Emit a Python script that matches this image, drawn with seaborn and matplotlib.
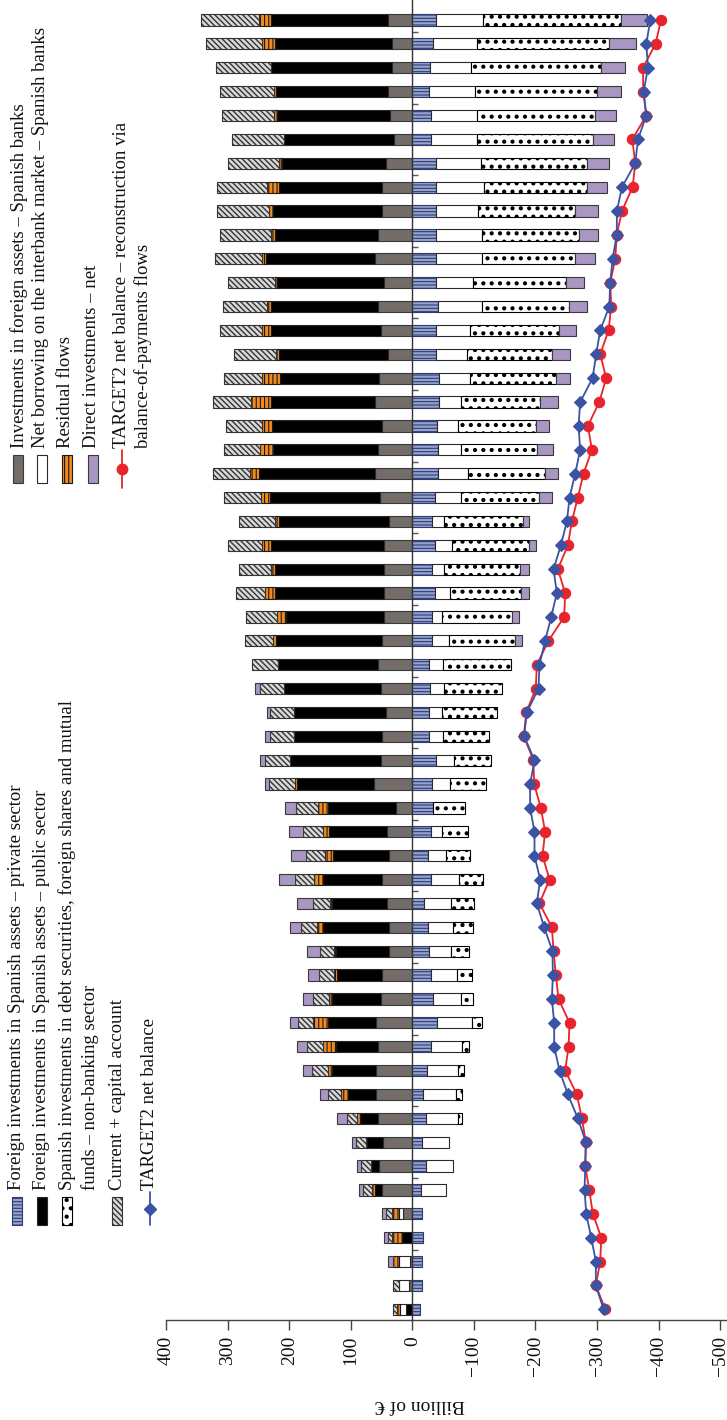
import numpy as np
import pandas as pd
import matplotlib
matplotlib.use("Agg")
import matplotlib.pyplot as plt
from matplotlib.patches import Rectangle
from matplotlib.lines import Line2D
import seaborn as sns

# ---------------- data (month index 0 = first month, bottom of chart) ----------------
months = list(range(55))

banks_foreign_assets = [0, 4.9, 3.8, 0, 14.6, 49.9, 53.7, 48.2, 56.4, 59.1, 59.1, 56.4, 59.1, 50.9,
                        49.9, 37.9, 37.9, 41.7, 49.9, 37.9, 41.7, 27.1, 62.3, 50.9, 49.9, 43.4, 50.9,
                        55.3, 49.9, 46.6, 46.6, 46.6, 46.6, 37.9, 52.6, 60.2, 55.8, 49.3, 60.7, 53.7,
                        40.1, 50.9, 56.4, 45.5, 60.7, 55.3, 49.9, 49.9, 43.4, 29.8, 36.3, 40.1, 33.1,
                        33.6, 40.1]

private_sector = [-12.5, -16.3, -16.3, -16.8, -16.3, -14.1, -21.7, -16.3, -21.7, -17.9, -23.3, -30.4,
                  -40.7, -34.1, -30.4, -27.6, -26, -19.5, -29.8, -26, -29.8, -33.1, -31.4, -37.9,
                  -27.6, -27.6, -28.7, -27.1, -31.4, -31.4, -36.9, -31.4, -36.9, -31.4, -36.9, -41.2,
                  -41.2, -39.6, -43.9, -43.9, -38.5, -37.9, -41.2, -37.9, -37.9, -37.9, -37.9, -37.9,
                  -37.9, -30.4, -30.4, -27.6, -28.7, -34.1, -37.9]

public_sector = [10.8, 0, 0, 16.3, 0, 10.8, 14.1, 24.9, 28.7, 45, 71, 68.3, 77.5, 79.1, 73.2, 86.7,
                 107.9, 88.3, 94.9, 91.6, 93.2, 110.6, 124.7, 148, 142, 148.5, 157.2, 162.6, 170.7,
                 158.8, 175.6, 175.6, 183.7, 178.3, 178.9, 188.6, 170.2, 178.3, 169.6, 161.5, 176.2,
                 177.8, 172.4, 174, 176.2, 168, 176.2, 166.9, 167.5, 178.9, 183.2, 180.5, 195.7,
                 189.7, 188.6]

interbank = [9.2, 16.8, 17.3, 0, 7, -40.7, -45, -43.9, -53.1, -52.6, -50.4, -50.9, -56.9, -45,
             -41.7, -34.7, -40.7, -42.8, -46.6, -28.7, -19, 0, -29.8, -29.8, -21.7, -21.1, -23.3,
             -23.3, -28.2, -17.3, -24.4, -20.1, -28.2, -20.1, -42.3, -48.8, -37.9, -34.1, -35.2,
             -49.9, -49.9, -55.8, -71.5, -61.2, -74.8, -74.8, -69.4, -79.1, -73.7, -74.3, -74.3,
             -74.3, -66.1, -70.5, -77.5]

spanish_securities = [0, 0, 0, 0, 0, 0, 0, 0, -5.4, -9.8, -10.8, -11.4, -16.3, -19, -24.4, -29.8,
                      -32.5, -38.5, -37.9, -39, -42.3, -52.6, -58, -60.2, -76, -89.4, -94.3, -110,
                      -107.3, -112.7, -115.4, -123.6, -123.6, -127.9, -126.8, -124.7, -123, -127.4,
                      -128.5, -139.8, -138.2, -144.7, -142.5, -150.7, -151.8, -157.2, -157.2, -166.4,
                      -171.8, -188, -191.3, -197.8, -211.9, -214.1, -223.3]

residual = [5.4, 0, 10.8, 16.3, 10.8, 5.4, 0, 2.7, 4.3, 12.5, 6.5, 21.1, 24.4, 4.9, 4.3, 2.7, 9.8,
            3.8, 15.2, 12.5, 10.8, 15.2, 3.8, 0, 0, 0, 0, 0, 5.4, 14.1, 16.3, 7.6, 14.6, 7, 14.6,
            15.2, 20.6, 15.7, 32, 28.2, 5.4, 14.6, 6.5, 3.8, 6.5, 5.4, 6.5, 18.4, 6, 0, 5.4, 4.3,
            1.5, 20, 20]

current_capital = [5.4, 9.2, 0, 6.5, 10.8, 13.6, 16.3, 15.7, 17.3, 20.1, 26, 24.9, 24.4, 27.1, 24.4,
                   22.8, 24.4, 28.2, 29.8, 30.9, 32.5, 35.2, 41.7, 40.7, 38.5, 39.6, 38.5, 42.3, 46.1,
                   50.4, 48.2, 52, 54.2, 58.5, 60.2, 59.6, 59.6, 58.5, 61.2, 62.9, 67.8, 69.4, 71.5,
                   75.9, 77, 83.5, 85.1, 82.4, 82.4, 84.6, 84.6, 87.8, 88.3, 92.1, 93.8]

direct_investments = [0, 0, 7, 7.6, 6.5, 7, 6.5, 7, 15.2, 12.5, 14.6, 17.3, 12.5, 15.2, 17.3, 21.7,
                      17.9, 26, 26.6, 24.9, 21.7, 19, 7, 7, 9.2, 4.3, 8.1, 0, -11.9, -12.5, -13,
                      -14.6, -11.9, -9.8, -20.6, -21.1, -26, -21.1, -28.2, -22.8, -29.8, -27.6, -28.2,
                      -29.3, -32.5, -30.9, -36.3, -32.5, -35.2, -35.2, -35.2, -39, -37.9, -44.4, -42.3]

target2 = [-310.6, -298, -298.1, -290.5, -282.4, -279.7, -280.8, -281.8, -268.8, -252.6, -239,
           -230.4, -230.4, -226.6, -228.2, -227.6, -214.1, -202.2, -207.6, -198.4, -198.4, -191.3,
           -191.3, -198.4, -181.6, -185.9, -204.9, -206.5, -215.7, -225.5, -234.7, -229.3, -241.2,
           -251, -255.3, -264.5, -272.6, -269.9, -272.6, -292.7, -298.6, -305.1, -319.8, -321.4,
           -325.2, -332, -332.2, -340.4, -362, -366.4, -380, -375.6, -382.7, -380, -386.4]

target2_reconstruction = [-313.3, -298, -305.1, -306.8, -293.2, -287.3, -280.8, -281.8, -275.3,
                          -267.2, -248.2, -253.7, -255.3, -237.4, -233.1, -229.3, -226.6, -206.5,
                          -222.8, -211.4, -215.7, -208.7, -197.8, -196.7, -181, -185, -200.5,
                          -202.2, -221.1, -246.6, -248.2, -236.3, -252.6, -259, -268.8, -278,
                          -291.6, -285.1, -303.5, -314.9, -305.1, -318.7, -323, -321.4, -329.5,
                          -332, -340.4, -357.7, -362, -357.2, -380, -375, -374.5, -395, -403.8]

value_ticks = [400, 300, 200, 100, 0, -100, -200, -300, -400, -500]
quarter_ticks = [2.5 + 3 * i for i in range(18)]

# ---------------- styles ----------------
STYLE = {
    "banks":   dict(color="#736c69", hatch=None, edgecolor="#3a3a3a", hlw=0.8),
    "private": dict(color="#97a3cf", hatch="-----", edgecolor="#2d3b70", hlw=0.8),
    "public":  dict(color="#000000", hatch=None, edgecolor="#2a2a2a", hlw=0.8),
    "inter":   dict(color="#ffffff", hatch=None, edgecolor="#2a2a2a", hlw=0.8),
    "spanish": dict(color="#ffffff", hatch="..", edgecolor="#000000", hlw=1.8),
    "resid":   dict(color="#f28a1f", hatch="||||", edgecolor="#1a1a1a", hlw=0.8),
    "current": dict(color="#d9d9d9", hatch="\\\\\\\\\\\\", edgecolor="#333333", hlw=1.0),
    "direct":  dict(color="#a996c2", hatch=None, edgecolor="#3a3a3a", hlw=0.8),
}
BLUE = "#3a53a4"
RED = "#e8232b"

sns.set_theme(style="white")
plt.rcParams["font.family"] = ["Liberation Serif", "DejaVu Serif"]
plt.rcParams["axes.unicode_minus"] = True

W, H = 727, 1420
fig = plt.figure(figsize=(W / 100, H / 100), dpi=100)
ax = fig.add_axes([166 / W, 1 - 1320 / H, (W - 166) / W, 1320 / H])

stack = [
    ("banks", banks_foreign_assets),
    ("private", private_sector),
    ("public", public_sector),
    ("inter", interbank),
    ("spanish", spanish_securities),
    ("resid", residual),
    ("current", current_capital),
    ("direct", direct_investments),
]

m = np.array(months, dtype=float)
pos = np.zeros(len(m))
neg = np.zeros(len(m))
for key, vals in stack:
    v = np.array(vals, dtype=float)
    assert len(v) == len(m), key
    st = STYLE[key]
    left = np.where(v >= 0, pos, neg)
    keep = v != 0
    with plt.rc_context({"hatch.linewidth": st["hlw"]}):
        bars = ax.barh(m[keep], v[keep], left=left[keep], height=0.47,
                       color=st["color"], hatch=st["hatch"], edgecolor=st["edgecolor"],
                       linewidth=0.8, zorder=2)
    for b in bars:
        if hasattr(b, "set_hatch_linewidth"):
            b.set_hatch_linewidth(st["hlw"])
    pos += np.where(v > 0, v, 0)
    neg += np.where(v < 0, v, 0)

df = pd.DataFrame({"month": months, "target2": target2, "recon": target2_reconstruction})
sns.lineplot(data=df, x="recon", y="month", orient="y", color=RED, marker="o",
             markersize=7.5, markeredgecolor=RED, linewidth=1.3, ax=ax, zorder=5)
sns.lineplot(data=df, x="target2", y="month", orient="y", color=BLUE, marker="D",
             markersize=6.5, markeredgecolor=BLUE, linewidth=1.3, ax=ax, zorder=6)

ax.set_xlim(400, -511)
ax.set_ylim(-0.448, 54.838)
ax.set_xlabel("")
ax.set_ylabel("")

for s in ["top", "right"]:
    ax.spines[s].set_visible(False)
ax.spines["left"].set_position(("data", 0))
ax.spines["left"].set_color("#333333")
ax.spines["left"].set_linewidth(1.0)
ax.spines["left"].set_zorder(3)
ax.spines["bottom"].set_color("#444444")
ax.spines["bottom"].set_linewidth(1.0)

ax.set_xticks(value_ticks)
ax.tick_params(axis="x", bottom=True, direction="out", length=7.5, width=1.0, color="#444444",
               labelsize=14, labelrotation=90, pad=4, labelcolor="#111111")
ax.set_yticks(quarter_ticks)
ax.tick_params(axis="y", left=True, direction="in", length=4.5, width=1.0, color="#555555",
               labelleft=False)
ax.grid(False)

fig.text(420 / W, 1 - 1405 / H, "Billion of €", rotation=180, ha="center", va="center",
         fontsize=14, color="#111111")

# ---------------- legend (rotated, drawn in figure pixels) ----------------
def fx(px):
    return px / W

def fy(py):
    return 1 - py / H

def swatch(xc, y0, y1, key):
    st = STYLE[key]
    with plt.rc_context({"hatch.linewidth": st["hlw"]}):
        r = Rectangle((fx(xc - 5), fy(y1)), 10 / W, (y1 - y0) / H, transform=fig.transFigure,
                      facecolor=st["color"], hatch=st["hatch"], edgecolor=st["edgecolor"],
                      linewidth=0.8)
    if hasattr(r, "set_hatch_linewidth"):
        r.set_hatch_linewidth(st["hlw"])
    fig.add_artist(r)

def line_handle(xc, y0, y1, color, marker, ms):
    fig.add_artist(Line2D([fx(xc), fx(xc)], [fy(y1), fy(y0)], transform=fig.transFigure,
                          color=color, linewidth=1.3))
    fig.add_artist(Line2D([fx(xc)], [fy((y0 + y1) / 2)], transform=fig.transFigure,
                          color=color, marker=marker, markersize=ms, linestyle="none"))

LEG_FS = 13.5

def legend_text(xc, ybottom, s):
    fig.text(fx(xc), fy(ybottom), s, rotation=90, ha="center", va="bottom", fontsize=LEG_FS,
             color="#111111")

# lower group
yb, s0, s1 = 1190, 1197, 1225
legend_text(17, yb, "Foreign investments in Spanish assets – private sector")
swatch(17, s0, s1, "private")
legend_text(42, yb, "Foreign investments in Spanish assets – public sector")
swatch(42, s0, s1, "public")
legend_text(67, yb, "Spanish investments in debt securities, foreign shares and mutual")
swatch(67, s0, s1, "spanish")
legend_text(90, yb, "funds – non-banking sector")
legend_text(117, yb, "Current + capital account")
swatch(117, s0, s1, "current")
legend_text(150, yb, "TARGET2 net balance")
line_handle(150, 1192, 1225, BLUE, "D", 6.5)

# upper group
yb, s0, s1 = 448, 455, 483
legend_text(19, yb, "Investments in foreign assets – Spanish banks")
swatch(18, s0, s1, "banks")
legend_text(41, yb, "Net borrowing on the interbank market – Spanish banks")
swatch(42, s0, s1, "inter")
legend_text(65, yb, "Residual flows")
swatch(67, s0, s1, "resid")
legend_text(91, yb, "Direct investments – net")
swatch(93, s0, s1, "direct")
legend_text(122, yb, "TARGET2 net balance – reconstruction via")
line_handle(122, 450, 488, RED, "o", 7.5)
legend_text(143, yb, "balance-of-payments flows")

fig.savefig("out.png", dpi=100)
